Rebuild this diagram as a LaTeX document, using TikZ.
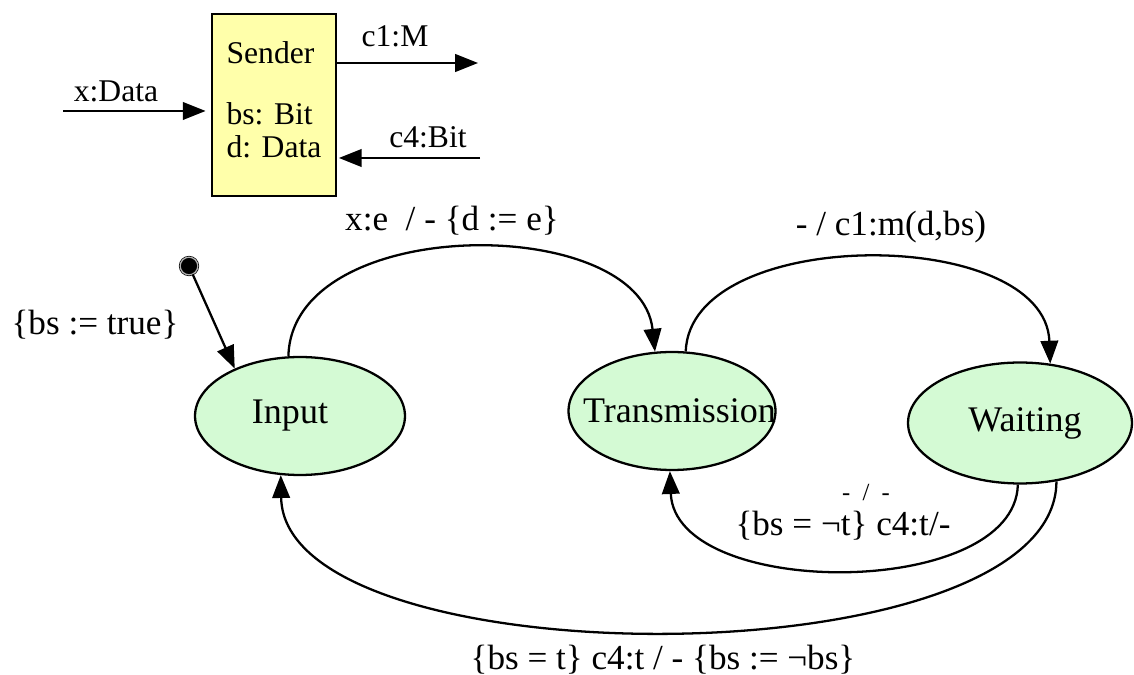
\documentclass[tikz,border=0pt]{standalone}
\usepackage{fontspec}
\setmainfont{Liberation Serif}
\usetikzlibrary{arrows.meta,shapes.geometric}
\definecolor{stategreen}{RGB}{212,250,212}
\definecolor{boxyellow}{RGB}{255,255,170}
\tikzset{
  px/.style={x=0.02cm,y=-0.02cm},
  state/.style={ellipse,draw,line width=1.3pt,fill=stategreen,inner sep=0pt,
    minimum height=2.36cm},
  statetext/.style={font=\fontsize{20.5}{24}\selectfont},
  edge/.style={line width=1.3pt,-{Triangle[length=13pt,width=10pt]}},
  lbl/.style={font=\fontsize{20}{24}\selectfont,inner sep=0pt},
  portlbl/.style={font=\fontsize{18}{21}\selectfont,inner sep=0pt},
  smalllbl/.style={font=\fontsize{14}{16}\selectfont,inner sep=0pt},
}
\begin{document}
\begin{tikzpicture}[px]
\useasboundingbox (0,0) rectangle (1134,675);

% component box with its ports
\node[draw,line width=1.3pt,fill=boxyellow,minimum width=2.48cm,minimum height=3.64cm,
      align=left,font=\fontsize{18}{18.8}\selectfont] (sender) at (274,105)
  {Sender\\[16pt]bs: Bit\\d: Data\rule[-6pt]{0pt}{6pt}};

\coordinate (xin) at (63,111);
\coordinate (c1out) at (478,63);
\coordinate (c4in) at (480,158);
\draw[edge,shorten >=3pt] (xin) -- (xin -| sender.west);
\draw[edge] (sender.east |- c1out) -- (c1out);
\draw[edge,shorten >=1pt] (c4in) -- (c4in -| sender.east);
\node[portlbl] (lx) at (116,91) {x:Data};
\node[portlbl] (lc1) at (395,36) {c1:M};
\node[portlbl] (lc4) at (428,137) {c4:Bit};

% states
\node[state,minimum width=4.2cm,
      label={[statetext,xshift=-0.2cm]center:Input}] (in) at (300,416) {};
\node[state,minimum width=4.14cm,
      label={[statetext,xshift=0.15cm]center:Transmission}] (tr) at (672,411) {};
\node[state,minimum width=4.48cm,minimum height=2.42cm,
      label={[statetext,xshift=0.1cm]center:Waiting}] (wa) at (1020,423) {};

% initial pseudo-state
\node[circle,fill=black,draw=black,double=gray!60,double distance=0.7pt,
      inner sep=0pt,minimum size=10pt] (init) at (189,266) {};
\draw[edge] (init) -- (in.144);
\node[lbl] (linit) at (95,325) {\{bs := true\}};

% transitions
\draw[edge] (in.101) .. controls (292,213) and (640,213) .. (tr.106);
\node[lbl] (l1) at (452,221) {x:e~~/ - \{d := e\}};

\draw[edge] (tr.77) .. controls (690,225) and (1045,225) .. (wa.63);
\node[lbl] (l2) at (891,227) {- / c1:m(d,bs)};

\draw[edge] (wa.268) .. controls (1015,600) and (675,600) .. (tr.268);
\node[smalllbl] (l3a) at (866,493) {-~~/~~-};
\node[lbl] (l3b) at (843,526) {\{bs = ¬t\} c4:t/-};

\draw[edge] (wa.302) .. controls (1056,682) and (284,682) .. (in.252);
\node[lbl] (l4) at (663,660) {\{bs = t\} c4:t / - \{bs := ¬bs\}};
\end{tikzpicture}
\end{document}
